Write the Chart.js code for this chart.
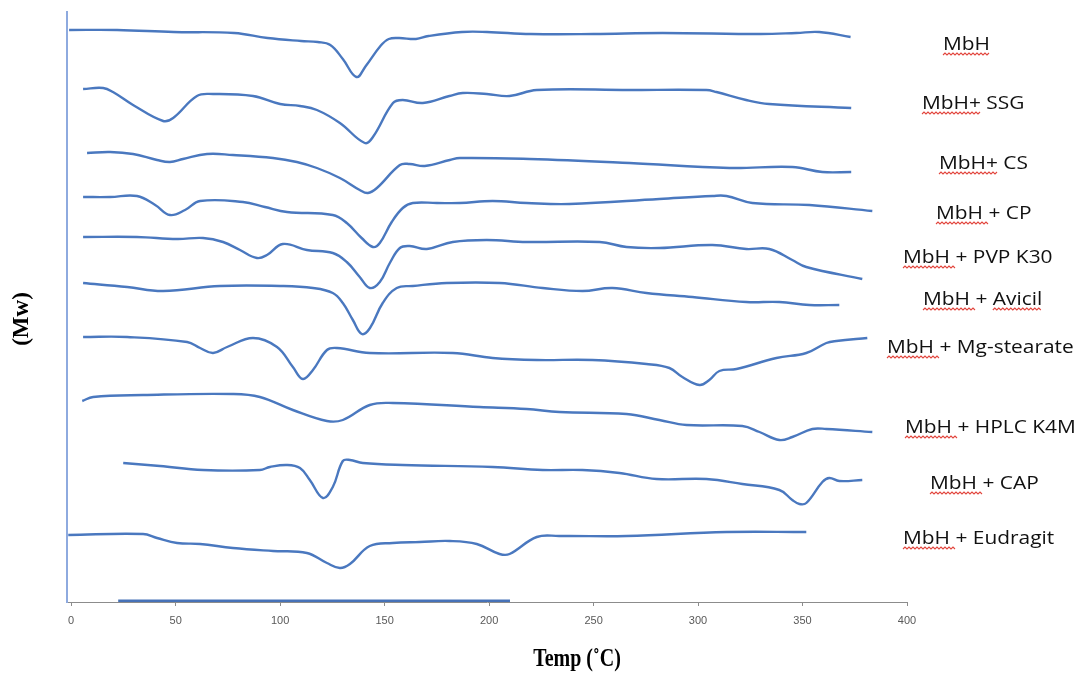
<!DOCTYPE html>
<html>
<head>
<meta charset="utf-8">
<script src="https://cdn.jsdelivr.net/npm/chart.js@4.4.1/dist/chart.umd.min.js"></script>
<style>
    html, body { margin: 0; padding: 0; background: #fff; }
    #wrap { width: 1075px; height: 674px; }
</style>
</head>
<body>
<div id="wrap"><canvas id="dsc" width="1075" height="674"></canvas></div>
<script>
// DSC traces: temperature (°C) vs heat flow, each trace offset on the same axis
var mbhT = [-1, 22, 49, 78, 94, 110, 118, 124, 130, 136.5, 141, 148, 152, 157, 165, 171, 187, 199, 220, 250, 283, 330, 347, 358, 373];
var mbhY = [572, 572, 570, 569, 564, 561, 560, 557, 543, 525, 536, 556, 563, 564, 563, 566, 570, 570, 568, 568, 569, 568, 569, 570, 565];

var ssgT = [5.7, 15.3, 20, 29.6, 44, 48.8, 60.2, 67.9, 87, 100, 109.5, 117.6, 128.6, 140.5, 144.4, 154, 158.7, 168.3, 181, 187.4, 198.9, 209.8, 222.8, 267, 304, 308.8, 323, 334, 373.3];
var ssgY = [513, 514, 510, 497, 481, 484, 506, 508, 506, 498, 496, 492, 479, 459, 465, 499, 502, 499, 506, 509, 508, 506, 512, 512, 512, 510, 502, 498, 494];

var csT = [7.6, 18.6, 29.6, 41.1, 47.3, 53.5, 65, 77.4, 96.6, 108, 117.6, 128.6, 138.1, 142, 146.3, 157.3, 162, 169.2, 181.2, 186, 219.4, 267.2, 315, 345.1, 359.5, 373.3];
var csY = [449, 450, 448, 442, 440, 443, 448, 447, 444, 440, 434, 424, 412, 409, 414, 437, 438, 436, 442, 444, 443, 439, 434, 435, 430, 430];

var cpT = [5.7, 18.6, 31.5, 40.2, 47.3, 54.5, 61.7, 82.2, 92.7, 103.3, 125.2, 131.9, 139, 144.4, 147.7, 153.4, 158.7, 163.5, 175, 186, 201.7, 218, 238.5, 281.5, 306.9, 313.6, 326, 353.3, 383.4];
var cpY = [405, 405, 406, 397, 387, 392, 401, 400, 395, 390, 387, 379, 364, 355, 359, 380, 394, 399, 399, 399, 401, 399, 398, 403, 406, 406, 399, 397, 391];

var pvpT = [5.7, 31.5, 50.7, 63.1, 72.7, 80.8, 88.9, 93.7, 101.3, 112.8, 125.2, 131.9, 138.1, 142.9, 147.7, 152.5, 157.3, 162, 170.2, 182.6, 198.9, 218, 252.9, 265.8, 281.5, 306.9, 323.1, 334.1, 345.1, 351.8, 378.6];
var pvpY = [365, 365, 363, 364, 360, 352, 344, 347, 358, 352, 349, 340, 325, 314, 320, 339, 354, 356, 353, 360, 362, 360, 360, 355, 354, 357, 353, 353, 342, 335, 323];

var avicilT = [5.7, 26.8, 44, 71.2, 100, 115.7, 125.2, 130, 134.8, 139.1, 143, 149.1, 155.8, 163.5, 179.7, 205, 225.6, 244.7, 259, 275.3, 297.3, 323.1, 338.9, 353.3, 367.6];
var avicilY = [319, 315, 311, 316, 316, 314, 309, 299, 282, 268, 274, 299, 314, 316, 319, 319, 314, 311, 314, 309, 305, 300, 300, 297, 297];

var mgT = [5.7, 26.8, 55.5, 61.7, 67.9, 74.6, 87, 98.5, 106.1, 110.9, 115.7, 122.4, 127.2, 142.9, 182.6, 201.7, 222.8, 249.5, 275.3, 286.3, 292.5, 300.7, 305.4, 310.2, 318.4, 337.5, 351.8, 361.4, 366.2, 381];
var mgY = [265, 265, 260, 254, 249, 255, 264, 255, 235, 223, 232, 252, 254, 249, 249, 244, 242, 242, 238, 234, 225, 217, 222, 231, 233, 244, 249, 259, 261, 264];

var hplcT = [5.3, 10.5, 34.4, 77.4, 90.3, 106.1, 122.4, 130, 142.9, 153.9, 195.5, 218, 233.7, 265.8, 281.5, 294.5, 321.2, 329.4, 338.9, 345.1, 354.7, 361.4, 383.4];
var hplcY = [201, 205, 207, 208, 205, 192, 181, 182, 197, 199, 195, 193, 190, 188, 182, 177, 176, 170, 162, 165, 173, 173, 170];

var capT = [24.9, 42.5, 63.1, 90.3, 95.1, 103.3, 109.5, 114.2, 120.5, 125.2, 130, 133.4, 139.6, 158.7, 201.7, 225.6, 244.7, 262.4, 280.1, 304, 321.2, 338.9, 345.1, 348.5, 351.8, 359.5, 362.8, 367.6, 378.6];
var capY = [139, 136, 132, 132, 135, 137, 134, 122, 104, 115, 141, 142, 139, 137, 135, 132, 132, 129, 123, 123, 118, 112, 102, 98, 99, 120, 124, 121, 122];

var eudT = [-1.4, 34.4, 41.1, 50.7, 61.7, 77.4, 96.6, 112.8, 122.4, 128.6, 133.4, 142.9, 153.9, 166.8, 181.2, 194.1, 205, 209.8, 222.8, 233.7, 265.8, 313.6, 351.8];
var eudY = [67, 68, 64, 59, 58, 54, 51, 49, 39, 34, 38, 56, 59, 60, 61, 58, 48, 48, 65, 66, 66, 70, 70];

// short segment drawn along the bottom of the plot
var baseT = [22.5, 210];
var baseY = [1, 1];

var seriesNames = ['MbH', 'MbH+ SSG', 'MbH+ CS', 'MbH + CP', 'MbH + PVP K30', 'MbH + Avicil',
    'MbH + Mg-stearate', 'MbH + HPLC K4M', 'MbH + CAP', 'MbH + Eudragit'];
var seriesT = [mbhT, ssgT, csT, cpT, pvpT, avicilT, mgT, hplcT, capT, eudT];
var seriesY = [mbhY, ssgY, csY, cpY, pvpY, avicilY, mgY, hplcY, capY, eudY];

var xTicks = [0, 50, 100, 150, 200, 250, 300, 350, 400];

// where each trace name sits on the right (left edge x, middle y)
var namePos = [[943, 44], [922, 103], [939, 163], [936, 213], [903, 257], [923, 299],
    [887, 347], [905, 427], [930, 483], [903, 538]];

var lineColor = '#4a78bf';

function pts(t, y) {
    return t.map(function (v, i) { return { x: v, y: y[i] }; });
}

var datasets = seriesNames.map(function (name, i) {
    return {
        label: name,
        data: pts(seriesT[i], seriesY[i]),
        borderColor: lineColor,
        borderWidth: 2.4,
        pointRadius: 0,
        fill: false,
        tension: 0.4
    };
});
datasets.push({
    label: 'base',
    data: pts(baseT, baseY),
    borderColor: '#4672b8',
    borderWidth: 3.2,
    pointRadius: 0,
    fill: false
});

// red squiggle like a spell-check mark
function squiggle(ctx, x0, x1, y) {
    ctx.beginPath();
    ctx.moveTo(x0, y);
    var up = true;
    for (var x = x0 + 2; x <= x1; x += 2) {
        ctx.lineTo(x, up ? y - 2 : y);
        up = !up;
    }
    ctx.stroke();
}

var textPlugin = {
    id: 'dscText',
    afterDraw: function (chart) {
        var ctx = chart.ctx;
        var stretch = 1.1;
        ctx.save();
        ctx.font = '19px "Open Sans"';
        ctx.textBaseline = 'alphabetic';
        ctx.textAlign = 'left';
        seriesNames.forEach(function (name, i) {
            var x = namePos[i][0], y = namePos[i][1] + 6;
            ctx.save();
            ctx.translate(x, y);
            ctx.scale(stretch, 1);
            ctx.fillStyle = '#111';
            ctx.fillText(name, 0, 0);
            ctx.restore();

            ctx.strokeStyle = '#e2463e';
            ctx.lineWidth = 1.1;
            var head = name.match(/^MbH(\+| )?/)[0];
            squiggle(ctx, x, x + ctx.measureText(head).width * stretch, y + 5);
            var k = name.indexOf('Avicil');
            if (k >= 0) {
                var a = ctx.measureText(name.slice(0, k)).width * stretch;
                var b = ctx.measureText('Avicil').width * stretch;
                squiggle(ctx, x + a, x + a + b, y + 5);
            }
        });

        ctx.fillStyle = '#000';
        ctx.textAlign = 'center';
        ctx.textBaseline = 'middle';

        // x axis title, narrow bold serif
        ctx.save();
        ctx.translate(577, 660);
        ctx.scale(0.8, 1);
        ctx.font = 'bold 25px "Liberation Serif"';
        ctx.fillText('Temp (˚C)', 0, 0);
        ctx.restore();

        // y axis title
        ctx.save();
        ctx.translate(22, 319);
        ctx.rotate(-Math.PI / 2);
        ctx.font = 'bold 23px "Liberation Serif"';
        ctx.fillText('(Mw)', 0, 0);
        ctx.restore();
        ctx.restore();
    }
};

var ctx = document.getElementById('dsc').getContext('2d');
var chart = new Chart(ctx, {
    type: 'line',
    data: { datasets: datasets },
    options: {
        responsive: false,
        animation: false,
        layout: { padding: { left: 67, right: 168, top: 12, bottom: 0 } },
        plugins: {
            legend: { display: false },
            tooltip: { enabled: false }
        },
        scales: {
            x: {
                type: 'linear',
                min: -2,
                max: 400,
                afterBuildTicks: function (scale) {
                    scale.ticks = xTicks.map(function (v) { return { value: v }; });
                },
                afterFit: function (scale) { scale.height = 72; },
                grid: { drawOnChartArea: false, tickLength: 4, color: '#8c8c8c' },
                border: { color: '#8c8c8c', width: 1 },
                ticks: {
                    padding: 8,
                    color: '#595959',
                    maxRotation: 0,
                    font: { family: 'Liberation Sans', size: 11 }
                }
            },
            y: {
                min: 0,
                max: 590,
                ticks: { display: false },
                grid: { display: false, drawTicks: false },
                border: { color: '#8eaadf', width: 2 }
            }
        }
    },
    plugins: [textPlugin]
});
</script>
</body>
</html>
